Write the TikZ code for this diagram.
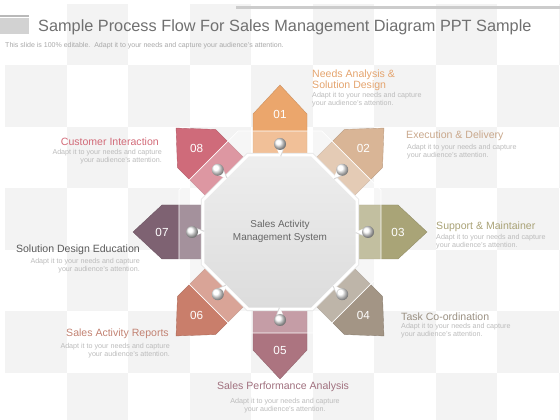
\documentclass[tikz,border=0pt]{standalone}
\usepackage{fontspec}
\setmainfont{Liberation Sans}
\usetikzlibrary{positioning}

\definecolor{checkgray}{HTML}{F3F3F3}
\definecolor{titlegray}{HTML}{707070}
\definecolor{subgray}{HTML}{A8A8A8}
\definecolor{bodygray}{HTML}{BBBBBB}
\definecolor{centergray}{HTML}{666666}
\definecolor{octtop}{HTML}{EEEEEE}
\definecolor{octbot}{HTML}{DCDCDC}
% arrow colours
\definecolor{c01}{HTML}{EBA66C}
\definecolor{c02}{HTML}{D9B596}
\definecolor{c03}{HTML}{A9A477}
\definecolor{c04}{HTML}{A39585}
\definecolor{c05}{HTML}{AC7480}
\definecolor{c06}{HTML}{C97E6B}
\definecolor{c07}{HTML}{7E6272}
\definecolor{c08}{HTML}{CF6B7A}
% heading colours
\definecolor{t01}{HTML}{E4A46E}
\definecolor{t02}{HTML}{C9A88C}
\definecolor{t03}{HTML}{A9A276}
\definecolor{t04}{HTML}{9A9082}
\definecolor{t05}{HTML}{A0707E}
\definecolor{t06}{HTML}{C28272}
\definecolor{t07}{HTML}{5A5A5A}
\definecolor{t08}{HTML}{D26A78}

\begin{document}
\begin{tikzpicture}[x=0.03cm,y=0.03cm,
	headtxt/.style={inner sep=0pt, font=\fontsize{9}{10.2}\selectfont},
	bodytxt/.style={inner sep=0pt, text=bodygray, font=\fontsize{6.1}{7.3}\selectfont},
	numtxt/.style={inner sep=0pt, text=white, font=\fontsize{10}{12}\selectfont}]
	\useasboundingbox (0,0) rectangle (560,420);

	% checkered background
	\foreach \i in {0,...,9}
	\foreach \j in {0,...,6}{
		\pgfmathtruncatemacro\odd{mod(\i+\j,2)}
		\ifnum\odd=1
			\fill[checkgray] (5+61.5*\i,416-61.5*\j) rectangle (5+61.5*\i+61.5,416-61.5*\j-61.5);
		\fi
	}

	% title bar
	\fill[gray!40] (236,411) rectangle (560,414);
	\fill[gray!35] (0,386) rectangle (29,402);
	\fill[gray!55] (0,403) rectangle (29,405);
	\node[inner sep=0pt, anchor=base west, text=titlegray, font=\fontsize{13.9}{16}\selectfont] (title) at (38,388)
		{Sample Process Flow For Sales Management Diagram PPT Sample};
	\node[inner sep=0pt, anchor=base west, text=subgray, font=\fontsize{6}{7}\selectfont] (subtitle) at (5,372)
		{This slide is 100\% editable.\ \ Adapt it to your needs and capture your audience's attention.};

	% arrows
	\foreach \n/\ang in {01/90, 02/45, 03/0, 04/-45, 05/-90, 06/-135, 07/180, 08/135}{
		\begin{scope}[shift={(280,188)}, rotate=\ang]
			\fill[c\n, draw=c\n!85!black, line width=0.3pt] (70,-27) -- (118,-27) -- (147,0) -- (118,27) -- (70,27) -- cycle;
		\end{scope}
	}

	% translucent outer ring
	\begin{scope}[shift={(280,188)}]
		\fill[white, opacity=0.3] (22.5:109.3) \foreach \a in {67.5,112.5,...,337.5}{ -- (\a:109.3)} -- cycle;
		\draw[white, line width=0.6pt] (22.5:109.3) \foreach \a in {67.5,112.5,...,337.5}{ -- (\a:109.3)} -- cycle;
	\end{scope}

	% numbers
	\foreach \n/\ang in {01/90, 02/45, 03/0, 04/-45, 05/-90, 06/-135, 07/180, 08/135}{
		\begin{scope}[shift={(280,188)}, rotate=\ang]
			\node[numtxt] (n\n) at (118,0) {\n};
		\end{scope}
	}

	% central octagon
	\begin{scope}[shift={(280,188)}]
		\draw[gray!22, line width=3.6pt] (22.5:83.3) \foreach \a in {67.5,112.5,...,337.5}{ -- (\a:83.3)} -- cycle;
		\shade[top color=octtop, bottom color=octbot, draw=white, line width=2.4pt]
			(22.5:83.3) \foreach \a in {67.5,112.5,...,337.5}{ -- (\a:83.3)} -- cycle;
	\end{scope}
	\node[inner sep=0pt, align=center, text=centergray, font=\fontsize{8.5}{11}\selectfont] (center) at (280,189)
		{Sales Activity\\Management System};

	% pins
	\foreach \ang in {90,45,0,-45,-90,-135,180,135}{
		\begin{scope}[shift={(280,188)}, rotate=\ang]
			\fill[gray!30] (75,-1) -- (87,-5) -- (87,5) -- cycle;
			\fill[white] (76,0) -- (86,-4.5) -- (86,4.5) -- cycle;
			\shade[ball color=white] (88,0) circle (6);
		\end{scope}
	}

	% labels
	\node[headtxt, anchor=base west, align=left, text=t01] (h01) at (312,331) {Needs Analysis \&\\Solution Design};
	\node[bodytxt, anchor=base west, align=left] (b01) at (312,314) {Adapt it to your needs and capture\\your audience's attention.};
	\node[headtxt, anchor=base west, text=t02] (h02) at (406,281) {Execution \& Delivery};
	\node[bodytxt, anchor=base west, align=left] (b02) at (407,262) {Adapt it to your needs and capture\\your audience's attention.};
	\node[headtxt, anchor=base west, text=t03] (h03) at (436,190) {Support \& Maintainer};
	\node[bodytxt, anchor=base west, align=left] (b03) at (436,172) {Adapt it to your needs and capture\\your audience's attention.};
	\node[headtxt, anchor=base west, text=t04] (h04) at (401,99) {Task Co-ordination};
	\node[bodytxt, anchor=base west, align=left] (b04) at (401,83) {Adapt it to your needs and capture\\your audience's attention.};
	\node[headtxt, anchor=base, text=t05] (h05) at (283,31) {Sales Performance Analysis};
	\node[bodytxt, anchor=base, align=center] (b05) at (285,8) {Adapt it to your needs and capture\\your audience's attention.};
	\node[headtxt, anchor=base east, text=t06] (h06) at (169,83) {Sales Activity Reports};
	\node[bodytxt, anchor=base east, align=right] (b06) at (170,63) {Adapt it to your needs and capture\\your audience's attention.};
	\node[headtxt, anchor=base east, text=t07] (h07) at (140,167) {Solution Design Education};
	\node[bodytxt, anchor=base east, align=right] (b07) at (140,148) {Adapt it to your needs and capture\\your audience's attention.};
	\node[headtxt, anchor=base east, text=t08] (h08) at (159,274) {Customer Interaction};
	\node[bodytxt, anchor=base east, align=right] (b08) at (162,257) {Adapt it to your needs and capture\\your audience's attention.};
\end{tikzpicture}
\end{document}
